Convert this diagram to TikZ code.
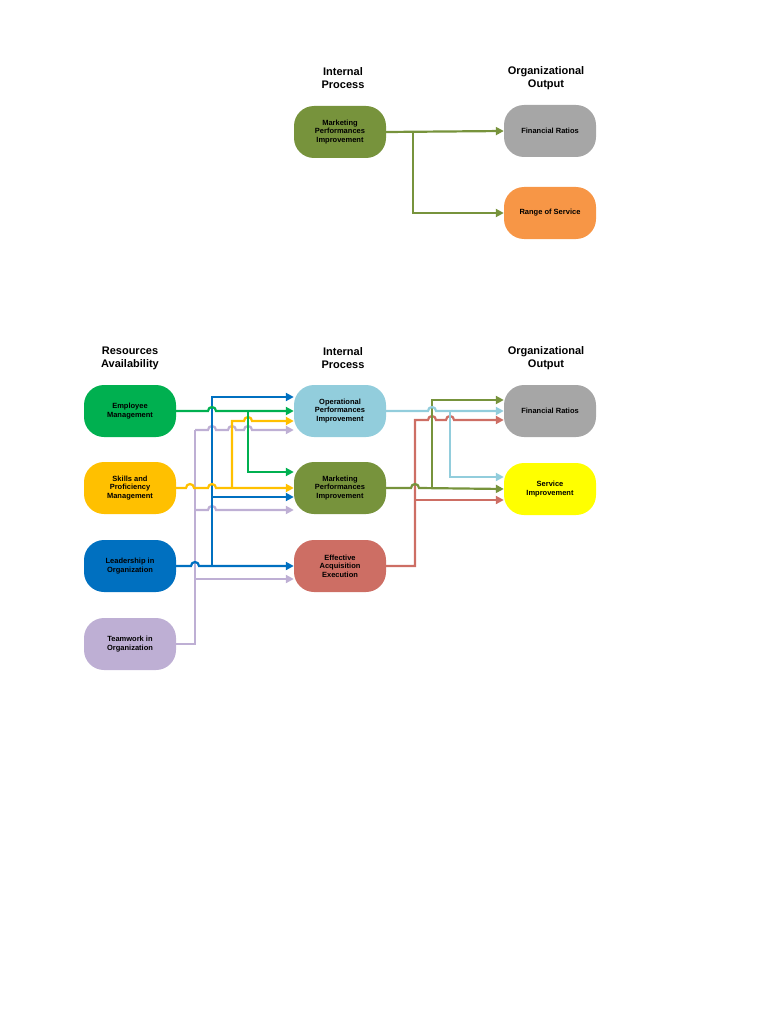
\documentclass[tikz,border=0pt]{standalone}
\usepackage{fontspec}
\setmainfont{Liberation Sans}
\usetikzlibrary{arrows.meta}
\definecolor{cEmp}{RGB}{0,176,80}
\definecolor{cSk}{RGB}{255,192,0}
\definecolor{cLd}{RGB}{0,112,192}
\definecolor{cTw}{RGB}{190,175,212}
\definecolor{cOp}{RGB}{146,205,220}
\definecolor{cMk}{RGB}{119,147,60}
\definecolor{cEf}{RGB}{205,110,100}
\definecolor{cFin}{RGB}{166,166,166}
\definecolor{cSv}{RGB}{255,255,0}
\definecolor{cRg}{RGB}{247,150,70}
\begin{document}
\begin{tikzpicture}[x=1pt,y=-1pt,
  box/.style={draw=none,minimum width=92pt,minimum height=52pt,rounded corners=20pt,align=center,font=\bfseries\fontsize{7.5}{8.5}\selectfont,inner sep=1pt},
  hd/.style={align=center,font=\bfseries\fontsize{11}{13}\selectfont},
  ln/.style={line width=2.2pt,-{Triangle[length=8pt,width=8pt]}},
  pl/.style={line width=2.2pt}]
\useasboundingbox (0,0) rectangle (768,1024);
% top
\node[hd] at (343,78) {Internal\\Process};
\node[hd] at (546,78) {Organizational\\Output};
\node[box,fill=cMk] (mk0) at (340,132) {Marketing\\Performances\\Improvement};
\node[box,fill=cFin] (fr0) at (550,131) {Financial Ratios};
\node[box,fill=cRg] (rs0) at (550,213) {Range of Service};
\draw[ln,cMk] (mk0.east) -- (fr0.west);
\draw[ln,cMk] (413,131) |- (rs0.west);
% bottom headers
\node[hd] at (130,358) {Resources\\Availability};
\node[hd] at (343,358) {Internal\\Process};
\node[hd] at (546,358) {Organizational\\Output};
\node[box,fill=cEmp] (emp) at (130,411) {Employee\\Management};
\node[box,fill=cSk] (sk) at (130,488) {Skills and\\Proficiency\\Management};
\node[box,fill=cLd] (ld) at (130,566) {Leadership in\\Organization};
\node[box,fill=cTw] (tw) at (130,644) {Teamwork in\\Organization};
\node[box,fill=cOp] (op) at (340,411) {Operational\\Performances\\Improvement};
\node[box,fill=cMk] (mk) at (340,488) {Marketing\\Performances\\Improvement};
\node[box,fill=cEf] (ef) at (340,566) {Effective\\Acquisition\\Execution};
\node[box,fill=cFin] (fin) at (550,411) {Financial Ratios};
\node[box,fill=cSv] (sv) at (550,489) {Service\\Improvement};
% purple
\draw[pl,cTw] (tw.east) -- (195,644) -- (195,430);
\draw[ln,cTw] (195,430) -- (208,430) arc(180:360:4) -- (228,430) arc(180:360:4) -- (244,430) arc(180:360:4) -- ([yshift=-19pt]op.west);
\draw[ln,cTw] (195,510) -- (208,510) arc(180:360:4) -- ([yshift=-22pt]mk.west);
\draw[ln,cTw] (195,579) -- ([yshift=-13pt]ef.west);
% blue
\draw[ln,cLd] (ld.east) -- (191,566) arc(180:360:4) -- (ef.west);
\draw[ln,cLd] (212,566) -- (212,397) -- ([yshift=14pt]op.west);
\draw[ln,cLd] (212,497) -- ([yshift=-9pt]mk.west);
% yellow
\draw[ln,cSk] (sk.east) -- (186,488) arc(180:360:4) -- (208,488) arc(180:360:4) -- (mk.west);
\draw[ln,cSk] (232,488) -- (232,421) -- (244,421) arc(180:360:4) -- ([yshift=-10pt]op.west);
% green
\draw[ln,cEmp] (emp.east) -- (208,411) arc(180:360:4) -- (op.west);
\draw[ln,cEmp] (248,411) -- (248,472) -- ([yshift=16pt]mk.west);
% right: red
\draw[ln,cEf] (ef.east) -- (415,566) -- (415,420) -- (428,420) arc(180:360:4) -- (446,420) arc(180:360:4) -- ([yshift=-9pt]fin.west);
\draw[ln,cEf] (415,500) -- ([yshift=-11pt]sv.west);
% olive
\draw[ln,cMk] (mk.east) -- (411,488) arc(180:360:4) -- (sv.west);
\draw[ln,cMk] (432,488) -- (432,400) -- ([yshift=11pt]fin.west);
% light blue
\draw[ln,cOp] (op.east) -- (428,411) arc(180:360:4) -- (fin.west);
\draw[ln,cOp] (450,411) -- (450,477) -- ([yshift=12pt]sv.west);
\end{tikzpicture}
\end{document}
